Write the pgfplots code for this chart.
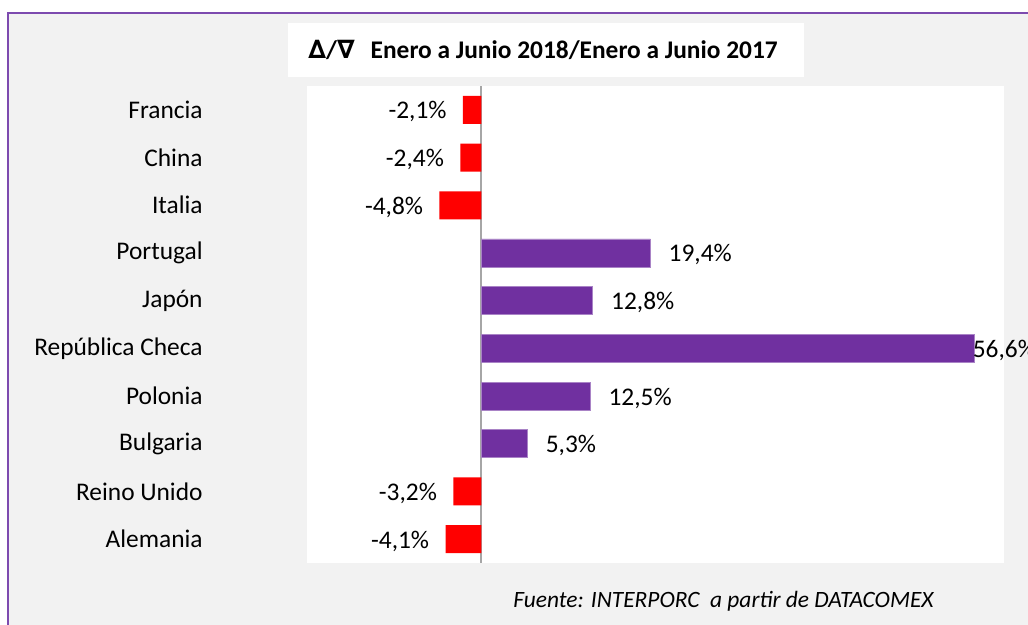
\documentclass[border=0pt]{standalone}
\usepackage{fontspec}
\setmainfont{Carlito}
\newfontfamily\symfont{DejaVu Sans}
\usepackage{pgfplots}
\pgfplotsset{compat=1.18}
\definecolor{bggray}{HTML}{F2F2F2}
\definecolor{barpurple}{HTML}{7030A0}
\definecolor{borderpurple}{RGB}{125,75,175}
\definecolor{zeroline}{HTML}{A6A6A6}
\begin{document}
\begin{tikzpicture}
\useasboundingbox (0,0) rectangle (514pt,312.5pt);
\fill[white] (0,0) rectangle (514pt,312.5pt);
\fill[bggray] (4pt,0) rectangle (514pt,306pt);
\draw[borderpurple, line width=1pt] (4pt,0) -- (4pt,306pt) -- (514pt,306pt);
% title box
\fill[white] (144pt,274pt) rectangle (402pt,301pt);
\node[anchor=west, inner sep=0pt] at (154pt,287.5pt) {\fontsize{12.7}{15}\selectfont\bfseries{\symfont ∆}/{\symfont ∇}\hspace{8pt}Enero a Junio 2018/Enero a Junio 2017};
% source
\node[anchor=west, inner sep=0pt] at (256.5pt,12pt) {\fontsize{11.7}{14}\selectfont\itshape Fuente: INTERPORC\ \ a partir de DATACOMEX};
\begin{axis}[
  at={(153.5pt,31pt)}, anchor=south west,
  scale only axis, width=348.5pt, height=238.5pt,
  xmin=-20, xmax=60, ymin=-0.5, ymax=9.5,
  y dir=reverse,
  xbar, bar shift=0pt, bar width=14pt,
  axis line style={draw=none},
  axis background/.style={fill=white},
  xtick=\empty,
  ytick={0,...,9},
  yticklabels={Francia,China,Italia,Portugal,Japón,República Checa,Polonia,Bulgaria,Reino Unido,Alemania},
  major tick length=0pt,
  yticklabel style={anchor=east, inner sep=0pt, xshift=-52pt, font=\fontsize{12.7}{15}\selectfont},
  clip=false,
  point meta=x,
  nodes near coords={\pgfmathprintnumber[fixed, fixed zerofill, precision=1, use comma, assume math mode=true]{\pgfplotspointmeta}\%},
]
\draw[zeroline, line width=1pt] (axis cs:0,-0.5) -- (axis cs:0,9.5);
\addplot[fill=red, draw=none,
  every node near coord/.append style={anchor=east, inner sep=0pt, xshift=-8pt, yshift=-1pt, font=\fontsize{12.7}{15}\selectfont}]
  coordinates {(-2.1,0) (-2.4,1) (-4.8,2) (-3.2,8) (-4.1,9)};
\addplot[fill=barpurple, draw=barpurple!60!white, line width=0.4pt,
  every node near coord/.append style={anchor=west, inner sep=0pt, xshift=9pt, yshift=-1pt, font=\fontsize{12.7}{15}\selectfont}]
  coordinates {(19.4,3) (12.8,4) (12.5,6) (5.3,7)};
\addplot[fill=barpurple, draw=barpurple!60!white, line width=0.4pt,
  every node near coord/.append style={anchor=west, inner sep=0pt, xshift=-1pt, yshift=-1pt, font=\fontsize{12.7}{15}\selectfont}]
  coordinates {(56.6,5)};
\end{axis}
\end{tikzpicture}
\end{document}
